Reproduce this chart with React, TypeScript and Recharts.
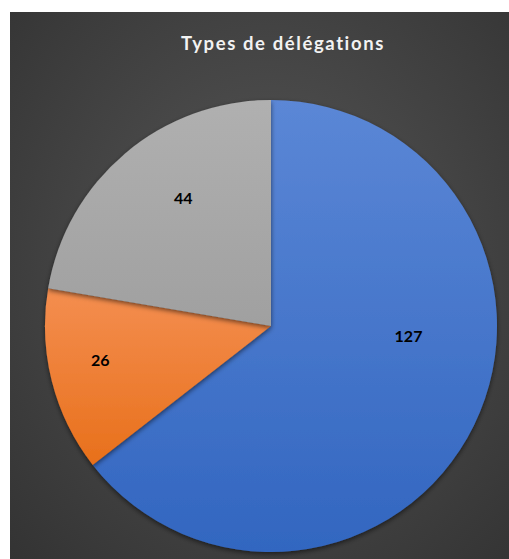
import React from 'react';
import { PieChart, Pie, Cell } from 'recharts';

const categories = ['Catégorie 1', 'Catégorie 2', 'Catégorie 3'];
const counts = [127, 26, 44];
const gradients = [
  ['#5b87d6', '#3266c0'],
  ['#f48e50', '#e8701b'],
  ['#b0b0b0', '#a0a0a0'],
];

// Excel "best fit" label placement, as tweaks to the mid-angle/radius
const labelTweaks = [
  { dAngle: 22, rFactor: 0.61 },
  { dAngle: -3, rFactor: 0.77 },
  { dAngle: -6, rFactor: 0.69 },
];

const data = categories.map((name, i) => ({ name, value: counts[i] }));

const RADIAN = Math.PI / 180;

const renderLabel = (props: any) => {
  const { cx, cy, midAngle, outerRadius, value, index } = props;
  const t = labelTweaks[index] || { dAngle: 0, rFactor: 0.68 };
  const a = midAngle + t.dAngle;
  const r = outerRadius * t.rFactor;
  const x = cx + r * Math.cos(-a * RADIAN);
  const y = cy + r * Math.sin(-a * RADIAN);
  return (
    <text
      x={x}
      y={y}
      fill="#000"
      textAnchor="middle"
      dominantBaseline="central"
      fontWeight="bold"
      fontSize={16}
      fontFamily="Lato, 'Open Sans', sans-serif"
    >
      {value}
    </text>
  );
};

export default function App() {
  return (
    <div
      style={{
        position: 'absolute',
        left: 10,
        top: 12,
        width: 499,
        height: 547,
        background: 'radial-gradient(ellipse at 52% 45%, #575757 0%, #484848 40%, #333333 100%)',
        overflow: 'hidden',
      }}
    >
      <div
        style={{
          position: 'absolute',
          left: 123,
          top: 20,
          width: 300,
          textAlign: 'center',
          color: '#f2f2f2',
          fontFamily: "Lato, 'Open Sans', sans-serif",
          fontWeight: 'bold',
          fontSize: 18.5,
          letterSpacing: 1.6,
        }}
      >
        Types de délégations
      </div>
      <PieChart width={499} height={547} margin={{ top: 0, right: 0, bottom: 0, left: 0 }}>
        <defs>
          {gradients.map((g, i) => (
            <linearGradient key={i} id={`grad${i}`} x1="0" y1="0" x2="0" y2="1">
              <stop offset="0%" stopColor={g[0]} />
              <stop offset="100%" stopColor={g[1]} />
            </linearGradient>
          ))}
          <filter id="shadow" x="-10%" y="-10%" width="120%" height="120%">
            <feDropShadow dx="0" dy="2" stdDeviation="2.5" floodColor="#000" floodOpacity="0.55" />
          </filter>
        </defs>
        <Pie
          data={data}
          dataKey="value"
          nameKey="name"
          cx={261}
          cy={314}
          outerRadius={226}
          startAngle={90}
          endAngle={-270}
          stroke="none"
          labelLine={false}
          label={renderLabel}
          isAnimationActive={false}
        >
          {data.map((entry, index) => (
            <Cell key={`cell-${index}`} fill={`url(#grad${index})`} filter="url(#shadow)" />
          ))}
        </Pie>
      </PieChart>
    </div>
  );
}
